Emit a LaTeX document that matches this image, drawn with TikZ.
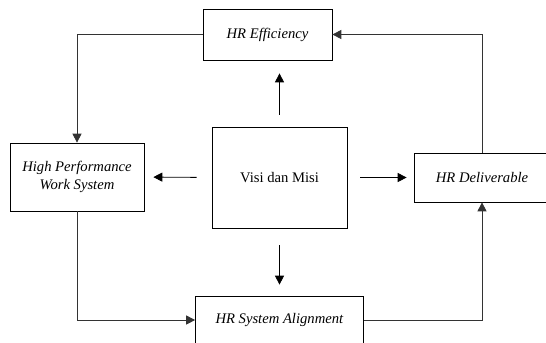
\documentclass[tikz,border=0pt]{standalone}
\usepackage{fontspec}
\setmainfont{Liberation Serif}
\usetikzlibrary{arrows.meta}

\begin{document}
\begin{tikzpicture}[x=1bp, y=-1bp,
    box/.style={draw, line width=0.7bp, inner sep=0pt, align=center,
        font=\fontsize{14.7}{18}\selectfont},
    link/.style={line width=0.8bp, black!80, -{Triangle[length=9bp, width=9bp]}},
    flow/.style={line width=0.8bp, -{Triangle[length=9bp, width=9bp]}}]
    \useasboundingbox (0,0) rectangle (546,342);
    \clip (0,0) rectangle (546,342);

    % --- BOXES ---
    \node[box, minimum width=129bp, minimum height=51bp] (eff) at (267.5, 34.5) {\textit{HR Efficiency}};
    \node[box, minimum width=134bp, minimum height=68bp] (hpws) at (77, 177) {\textit{High Performance}\\\textit{Work System}};
    \node[box, minimum width=135bp, minimum height=101bp] (visi) at (279.5, 177.5) {Visi dan Misi};
    \node[box, minimum width=136bp, minimum height=49bp] (deliv) at (482, 177.5) {\textit{HR Deliverable}};
    \node[box, minimum width=168bp, minimum height=48bp] (align) at (279.5, 320) {\textit{HR System Alignment}};

    % --- ARROWS FROM THE CENTRE ---
    \draw[flow, shorten <=12bp, shorten >=13bp] (visi.north) -- (visi.north |- eff.south);
    \draw[flow, shorten <=15bp, shorten >=9bp] (visi.west) -- (hpws.east);
    \draw[flow, shorten <=13bp, shorten >=7bp] (visi.east) -- (deliv.west);
    \draw[flow, shorten <=17bp, shorten >=11bp] (visi.south) -- (align.north);

    % --- OUTER LOOP ---
    \draw[link] (eff.west) -| (hpws.north);
    \draw[link] (hpws.south) |- (align.west);
    \draw[link] (align.east) -| (deliv.south);
    \draw[link] (deliv.north) |- (eff.east);
\end{tikzpicture}
\end{document}
